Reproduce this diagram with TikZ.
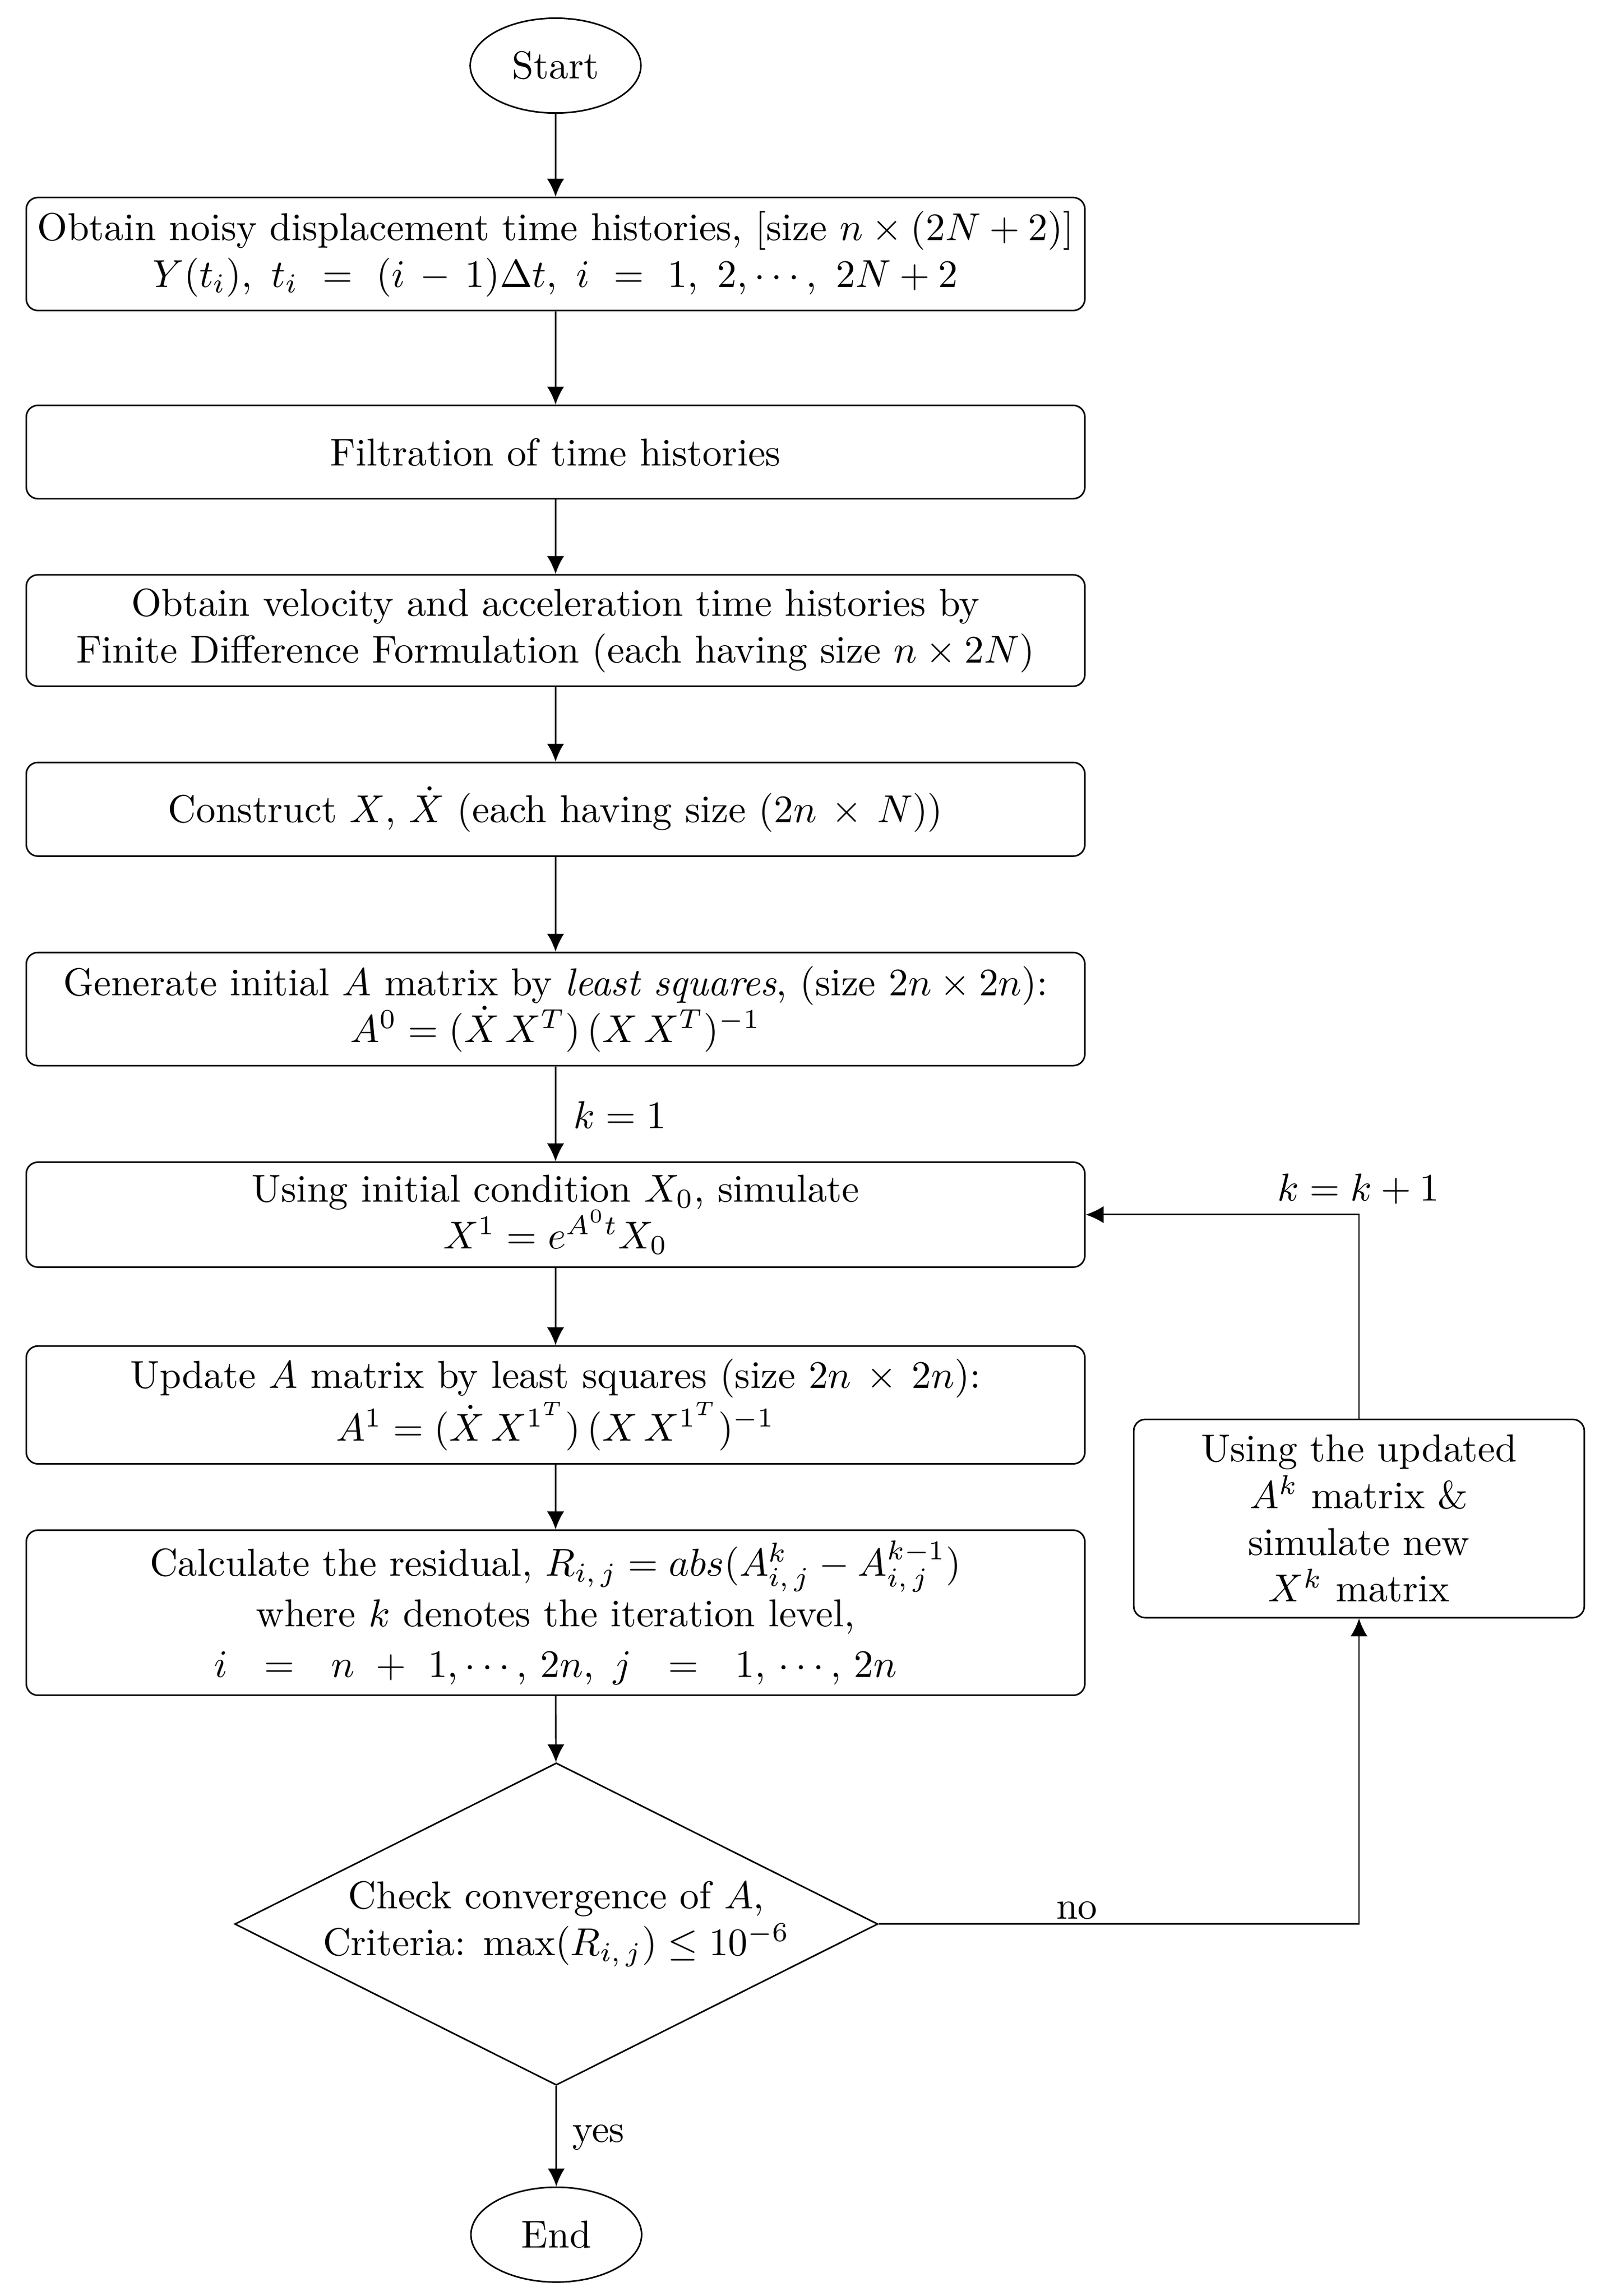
\documentclass[tikz,border=0pt]{standalone}
\usetikzlibrary{shapes.geometric,arrows.meta}
\begin{document}
\begin{tikzpicture}[x=0.375pt,y=-0.375pt,
  box/.style={draw,rounded corners=3pt,align=center,inner sep=0pt,minimum width=272.25pt},
  term/.style={draw,ellipse,inner sep=0pt,minimum width=43.9pt,minimum height=24.4pt},
  dec/.style={draw,diamond,aspect=2,align=center,inner sep=0pt,minimum width=165.4pt,minimum height=82.9pt},
  rbox/.style={draw,rounded corners=3pt,align=center,inner sep=0pt,minimum width=115.9pt,minimum height=51pt},
  arr/.style={-{Latex[length=4.6pt,width=4.4pt]}},
  lbl/.style={inner sep=0pt}]
\useasboundingbox (0,0) rectangle (1100,1574.6);

\node[term] (start) at (381,45) {Start};
\node[box,minimum height=29.06pt] (b1) at (381,174.2)
  {Obtain noisy displacement time histories, [size $n\times(2N+2)$]\\
   $Y(t_i),\ t_i\ =\ (i\,-\,1)\Delta t,\ i\ =\ 1,\ 2,\cdots,\ 2N+2$};
\node[box,minimum height=24pt] (b2) at (381,310) {Filtration of time histories};
\node[box,minimum height=28.65pt] (b3) at (381,432.4)
  {Obtain velocity and acceleration time histories by\\
   Finite Difference Formulation (each having size $n\times 2N$)};
\node[box,minimum height=24.1pt] (b4) at (381,555)
  {Construct $X$, $\dot{X}$ (each having size $(2n\,\times\,N)$)};
\node[box,minimum height=29.1pt] (b5) at (381,692)
  {Generate initial $A$ matrix by \textit{least squares}, (size $2n\times 2n$):\\
   $A^0=(\dot{X}\,X^T)\,(X\,X^T)^{-1}$};
\node[box,minimum height=27pt] (b6) at (381,833)
  {Using initial condition $X_0$, simulate\\
   $X^1=e^{A^0t}X_0$};
\node[box,minimum height=30.3pt] (b7) at (381,963.5)
  {Update $A$ matrix by least squares (size $2n\,\times\,2n$):\\
   $A^1=(\dot{X}\,X^{1^T})\,(X\,X^{1^T})^{-1}$};
\node[box,minimum height=42.45pt] (b8) at (381,1106)
  {Calculate the residual, $R_{i,\,j}=abs(A^k_{i,\,j}-A^{k-1}_{i,\,j})$\\[1pt]
   where $k$ denotes the iteration level,\\[1pt]
   $i\ \ =\ \ n\ +\ 1,\cdots,\,2n,\ j\ \ =\ \ 1,\,\cdots,\,2n$};
\node[dec] (chk) at (381.5,1319.5)
  {Check convergence of $A$,\\
   Criteria: $\max(R_{i,\,j})\le10^{-6}$};
\node[term] (end) at (381.5,1532.5) {End};
\node[rbox] (rb) at (932,1041.4)
  {Using the updated\\ $A^k$ matrix \&\\ simulate new\\ $X^k$ matrix};

\draw[arr] (start) -- (b1);
\draw[arr] (b1) -- (b2);
\draw[arr] (b2) -- (b3);
\draw[arr] (b3) -- (b4);
\draw[arr] (b4) -- (b5);
\draw[arr] (b5) -- (b6);
\draw[arr] (b6) -- (b7);
\draw[arr] (b7) -- (b8);
\draw[arr] (b8) -- (chk);
\draw[arr] (chk) -- (end);
\draw[arr] (chk.east) -| (rb.south);
\draw[arr] (rb.north) |- (b6.east);

\node[lbl,anchor=base west] (lk1) at (392.8,773.7) {$k=1$};
\node[lbl,anchor=base] (lkk) at (931.5,823.5) {$k=k+1$};
\node[lbl,anchor=base] (lno) at (738.5,1316) {no};
\node[lbl,anchor=base west] (lyes) at (392,1469) {yes};
\end{tikzpicture}
\end{document}
